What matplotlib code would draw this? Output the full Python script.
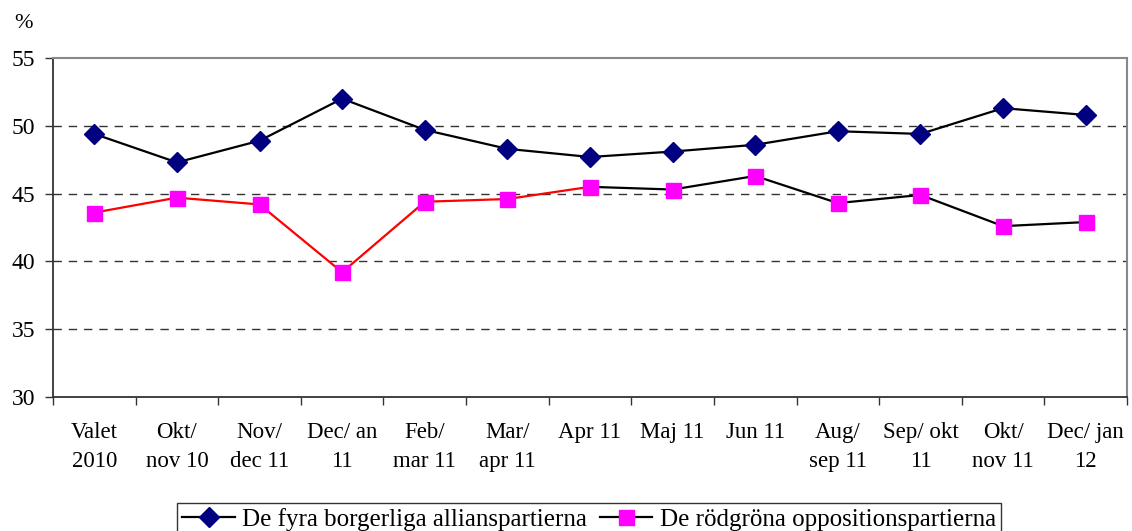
import matplotlib
matplotlib.use("Agg")
import matplotlib.pyplot as plt
from matplotlib.lines import Line2D

categories = ["Valet\n2010", "Okt/\nnov 10", "Nov/\ndec 11", "Dec/ an\n11", "Feb/\nmar 11",
              "Mar/\napr 11", "Apr 11", "Maj 11", "Jun 11", "Aug/\nsep 11",
              "Sep/ okt\n11", "Okt/\nnov 11", "Dec/ jan\n12"]
alliance = [49.4, 47.3, 48.9, 52.0, 49.7, 48.3, 47.7, 48.1, 48.6, 49.6, 49.4, 51.3, 50.8]
redgreen = [43.6, 44.7, 44.2, 39.2, 44.4, 44.6, 45.5, 45.3, 46.3, 44.3, 44.9, 42.6, 42.9]
red_until = 6  # index where the red segment of the line ends
yticks = [30, 35, 40, 45, 50, 55]
labels = ["De fyra borgerliga allianspartierna", "De rödgröna oppositionspartierna"]

plt.rcParams['font.family'] = ['Liberation Serif', 'DejaVu Serif']

W, H = 1132, 531
fig = plt.figure(figsize=(W / 100, H / 100), dpi=100)
left, right, top, bottom = 53, 1127, 58, 397
ax = fig.add_axes([left / W, 1 - bottom / H, (right - left) / W, (bottom - top) / H])

x = list(range(len(categories)))
ax.plot(x, alliance, color='black', lw=1.6, marker='D', markersize=10,
        markerfacecolor='#000080', markeredgecolor='#000080', zorder=3)
ax.plot(x[:red_until + 1], redgreen[:red_until + 1], color='#ff0000', lw=1.6, zorder=2)
ax.plot(x[red_until:], redgreen[red_until:], color='black', lw=1.6, zorder=2)
ax.plot(x, redgreen, ls='none', marker='s', markersize=10.8,
        markerfacecolor='#ff00ff', markeredgecolor='#ff00ff', zorder=4)

ax.set_xlim(-0.5, len(categories) - 0.5)
ax.set_ylim(30, 55)
ax.set_yticks(yticks)
ax.set_yticklabels([str(v) for v in yticks], fontsize=17)
ax.set_xticks([i - 0.5 for i in range(len(categories) + 1)], minor=False)
ax.set_xticklabels([])
ax.set_xticks(x, minor=True)
ax.set_xticklabels(categories, minor=True, fontsize=16.5, linespacing=1.5, va='top')
ax.tick_params(axis='x', which='minor', length=0, pad=18)
ax.tick_params(axis='x', which='major', length=6, width=1, direction='out', color='#333333')
ax.tick_params(axis='y', length=6, width=1, direction='out', color='#333333', pad=7)

for v in [35, 40, 45, 50]:
    ax.axhline(v, color='#333333', lw=1, ls=(0, (6, 5)), zorder=1)

for s in ['left', 'bottom']:
    ax.spines[s].set_color('#333333')
    ax.spines[s].set_linewidth(1.3)
for s in ['top', 'right']:
    ax.spines[s].set_color('#888888')
    ax.spines[s].set_linewidth(1.5)

fig.text(0.013, 0.955, "%", fontsize=16, ha='left', va='center')

handles = [
    Line2D([], [], color='black', lw=1.6, marker='D', markersize=10,
           markerfacecolor='#000080', markeredgecolor='#000080'),
    Line2D([], [], color='black', lw=1.6, marker='s', markersize=10.8,
           markerfacecolor='#ff00ff', markeredgecolor='#ff00ff'),
]
leg = fig.legend(handles, labels, loc='upper center', bbox_to_anchor=(0.5205, 1 - 503 / H),
                 ncol=2, fontsize=18, frameon=True, fancybox=False, edgecolor='black',
                 handlelength=2.1, handletextpad=0.3, columnspacing=0.5,
                 borderpad=0.2, borderaxespad=0)
leg.get_frame().set_linewidth(1)

fig.savefig("out.png", dpi=100)
